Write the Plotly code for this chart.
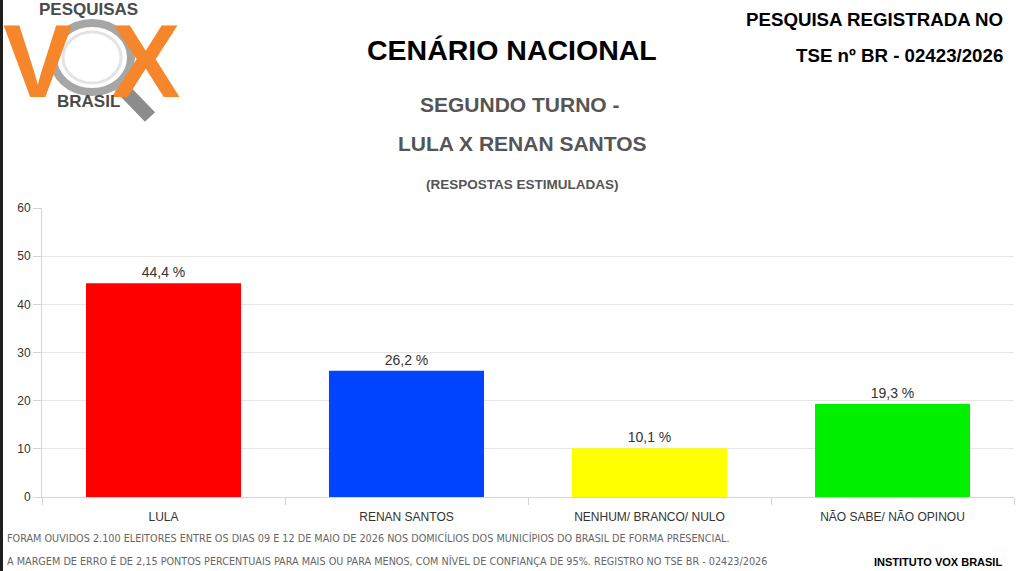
import plotly.graph_objects as go

# dados da pesquisa
candidatos = ["LULA", "RENAN SANTOS", "NENHUM/ BRANCO/ NULO", "NÃO SABE/ NÃO OPINOU"]
percentuais = [44.4, 26.2, 10.1, 19.3]
cores = ["#ff0000", "#0044ff", "#ffff00", "#00f000"]
y_ticks = [0, 10, 20, 30, 40, 50, 60]

W, H = 1018, 571
L, R, T, B = 42, 4, 208, 74
PW, PH = W - L - R, H - T - B


def px(x):
    return (x - L) / PW


def py(y):
    return (H - B - y) / PH


fig = go.Figure()

fig.add_trace(go.Bar(
    x=candidatos,
    y=percentuais,
    marker=dict(color=cores, line=dict(width=0)),
    texttemplate="%{y:.1f} %",
    textposition="outside",
    textfont=dict(family="Liberation Sans, Arial", size=14, color="#333333"),
    cliponaxis=False,
    hoverinfo="skip",
))

anns = []


def txt(text, x, y, size, color, bold=False, xanchor="center", family="Liberation Sans, Arial"):
    if bold:
        text = "<b>" + text + "</b>"
    anns.append(dict(text=text, x=px(x), y=py(y), xref="paper", yref="paper",
                     xanchor=xanchor, yanchor="middle", showarrow=False,
                     font=dict(family=family, size=size, color=color)))


# logo (letras grandes primeiro, por baixo)
txt("V", 37, 61, 104, "#f5862b", bold=True)
txt("X", 145, 61, 104, "#f5862b", bold=True)
txt("PESQUISAS", 88, 10, 17, "#4a4a4a", bold=True)
txt("BRASIL", 88, 102, 17, "#4a4a4a", bold=True)

# titulos
txt("CENÁRIO NACIONAL", 512, 50, 28.5, "#000000", bold=True)
txt("SEGUNDO TURNO -", 520, 104, 21, "#555555", bold=True)
txt("LULA X RENAN SANTOS", 522, 143, 21, "#555555", bold=True)
txt("(RESPOSTAS ESTIMULADAS)", 522, 185, 13.5, "#555555", bold=True)

# registro
txt("PESQUISA REGISTRADA NO", 1005, 19, 18.7, "#000000", bold=True, xanchor="right")
txt("TSE nº BR - 02423/2026", 1005, 55, 18.7, "#000000", bold=True, xanchor="right")

# rodape
foot_font = "Liberation Sans Narrow, DejaVu Sans Condensed, Arial Narrow"
txt("FORAM OUVIDOS 2.100 ELEITORES ENTRE OS DIAS 09 E 12 DE MAIO DE 2026 NOS DOMICÍLIOS DOS MUNICÍPIOS DO BRASIL DE FORMA PRESENCIAL.",
    5, 538, 10.75, "#666666", xanchor="left", family=foot_font)
txt("A MARGEM DE ERRO É DE 2,15 PONTOS PERCENTUAIS PARA MAIS OU PARA MENOS, COM NÍVEL DE CONFIANÇA DE 95%. REGISTRO NO TSE BR - 02423/2026",
    5, 561, 10.75, "#666666", xanchor="left", family=foot_font)
txt("INSTITUTO VOX BRASIL", 1004, 562, 11, "#000000", bold=True, xanchor="right")

shapes = [
    # borda escura esquerda
    dict(type="rect", xref="paper", yref="paper", x0=px(0), x1=px(3), y0=py(H), y1=py(0),
         fillcolor="#1e1e1e", line=dict(width=0), layer="above"),
    # lupa
    dict(type="line", xref="paper", yref="paper", x0=px(120), y0=py(86), x1=px(150), y1=py(117),
         line=dict(color="#8c8c8c", width=14), layer="above"),
    dict(type="circle", xref="paper", yref="paper", x0=px(53), x1=px(131), y0=py(92), y1=py(23),
         fillcolor="#ffffff", line=dict(color="#a6a6a6", width=8), layer="above"),
    dict(type="circle", xref="paper", yref="paper", x0=px(63), x1=px(121), y0=py(83), y1=py(32),
         fillcolor="rgba(0,0,0,0)", line=dict(color="#e4e4e4", width=3), layer="above"),
]

fig.update_layout(
    width=W, height=H,
    margin=dict(l=L, r=R, t=T, b=B),
    paper_bgcolor="white",
    plot_bgcolor="white",
    separators=",.",
    showlegend=False,
    bargap=0.362,
    annotations=anns,
    shapes=shapes,
    font=dict(family="Liberation Sans, Arial", color="#333333"),
)

fig.update_xaxes(
    showline=True, linecolor="#ccd6eb", linewidth=1,
    ticks="outside", tickson="boundaries", ticklen=7, tickcolor="#ccd6eb",
    ticklabelstandoff=9,
    tickfont=dict(size=12, color="#333333"),
    showgrid=False,
)

fig.update_yaxes(
    range=[0, 60], tickvals=y_ticks,
    showline=True, linecolor="#ccd6eb", linewidth=1,
    ticks="outside", ticklen=8, tickcolor="#ccd6eb",
    tickfont=dict(size=12, color="#333333"),
    showgrid=True, gridcolor="#e6e6e6", zeroline=False,
)

# sem margem da pagina, o grafico ocupa a janela toda
fig.write_html("out.html", config={"displayModeBar": False},
               post_script="document.body.style.margin='0';")
